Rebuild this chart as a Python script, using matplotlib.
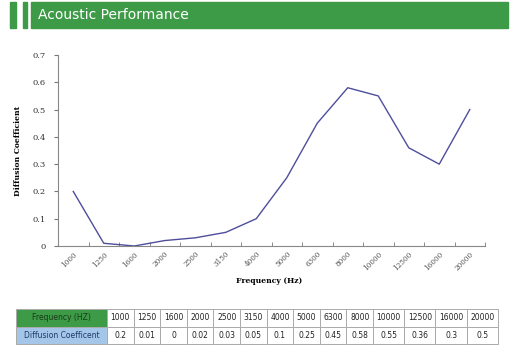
import matplotlib
matplotlib.use("Agg")
import matplotlib.pyplot as plt
from matplotlib.patches import Rectangle
import numpy as np

freqs = ["1000", "1250", "1600", "2000", "2500", "3150", "4000", "5000",
         "6300", "8000", "10000", "12500", "16000", "20000"]
diffusion = [0.2, 0.01, 0, 0.02, 0.03, 0.05, 0.1, 0.25, 0.45, 0.58, 0.55, 0.36, 0.3, 0.5]
yticks = [0, 0.1, 0.2, 0.3, 0.4, 0.5, 0.6, 0.7]

green = "#3d9a47"
W, H = 516, 356
fig = plt.figure(figsize=(W / 100, H / 100), dpi=100)

# header bar with the two thin stripes on the left
def px_rect(x0, y0, x1, y1, color):
    fig.patches.append(Rectangle((x0 / W, 1 - y1 / H), (x1 - x0) / W, (y1 - y0) / H,
                                 transform=fig.transFigure, color=color, zorder=0))

px_rect(10, 2, 16, 28, green)
px_rect(23, 2, 27, 28, green)
px_rect(31, 2, 508, 28, green)
fig.text(38 / W, 1 - 15 / H, "Acoustic Performance", color="white", fontsize=10,
         va="center", ha="left", family="DejaVu Sans")

# line chart
ax = fig.add_axes([58 / W, 1 - 246 / H, 427 / W, 191 / H])
x = np.arange(len(freqs))
ax.plot(x, diffusion, color="#4e4e9c", lw=1.0)
ax.set_xlim(-0.5, len(freqs) - 0.5)
ax.set_ylim(0, 0.7)
ax.set_yticks(yticks)
ax.set_yticklabels(["0" if v == 0 else f"{v:.1f}" for v in yticks],
                   fontsize=6, family="DejaVu Serif", color="#333333")
ax.set_xticks(x)
ax.set_xticklabels(freqs, rotation=45, ha="right", rotation_mode="anchor",
                   fontsize=5.2, family="DejaVu Serif", color="#555555")
ax.set_xticks(np.arange(len(freqs) + 1) - 0.5, minor=True)
ax.tick_params(axis="x", which="major", length=0, pad=3)
ax.tick_params(axis="x", which="minor", length=3, direction="in", color="#777777")
ax.tick_params(axis="y", length=3, color="#777777", pad=6)
for s in ["top", "right"]:
    ax.spines[s].set_visible(False)
for s in ["left", "bottom"]:
    ax.spines[s].set_color("#888888")
    ax.spines[s].set_linewidth(0.8)
ax.set_ylabel("Diffusion Coefficient", fontsize=5.5, fontweight="bold",
              family="DejaVu Serif", labelpad=7)
fig.text(269 / W, 1 - 281 / H, "Frequency (Hz)", fontsize=5.5, fontweight="bold",
         family="DejaVu Serif", ha="center", va="center")

# data table
tab_ax = fig.add_axes([16 / W, 1 - 344 / H, 482 / W, 35 / H])
tab_ax.axis("off")
col_w = [91] + [26.6] * 10 + [31.25] * 4
cells = [["Frequency (HZ)"] + freqs,
         ["Diffusion Coefficent"] + [f"{v:g}" for v in diffusion]]
tbl = tab_ax.table(cellText=cells, colWidths=[c / sum(col_w) for c in col_w],
                   bbox=[0, 0, 1, 1], cellLoc="center")
tbl.auto_set_font_size(False)
for (r, c), cell in tbl.get_celld().items():
    cell.set_edgecolor("#aaaaaa")
    cell.set_linewidth(0.7)
    cell.get_text().set_fontsize(5.5)
    cell.get_text().set_color("#222222")
    if c == 0:
        cell.set_facecolor(green if r == 0 else "#a4c6e8")
        cell.get_text().set_color("#1a3a1a" if r == 0 else "#1f3a6a")

fig.savefig("out.png", dpi=100)
